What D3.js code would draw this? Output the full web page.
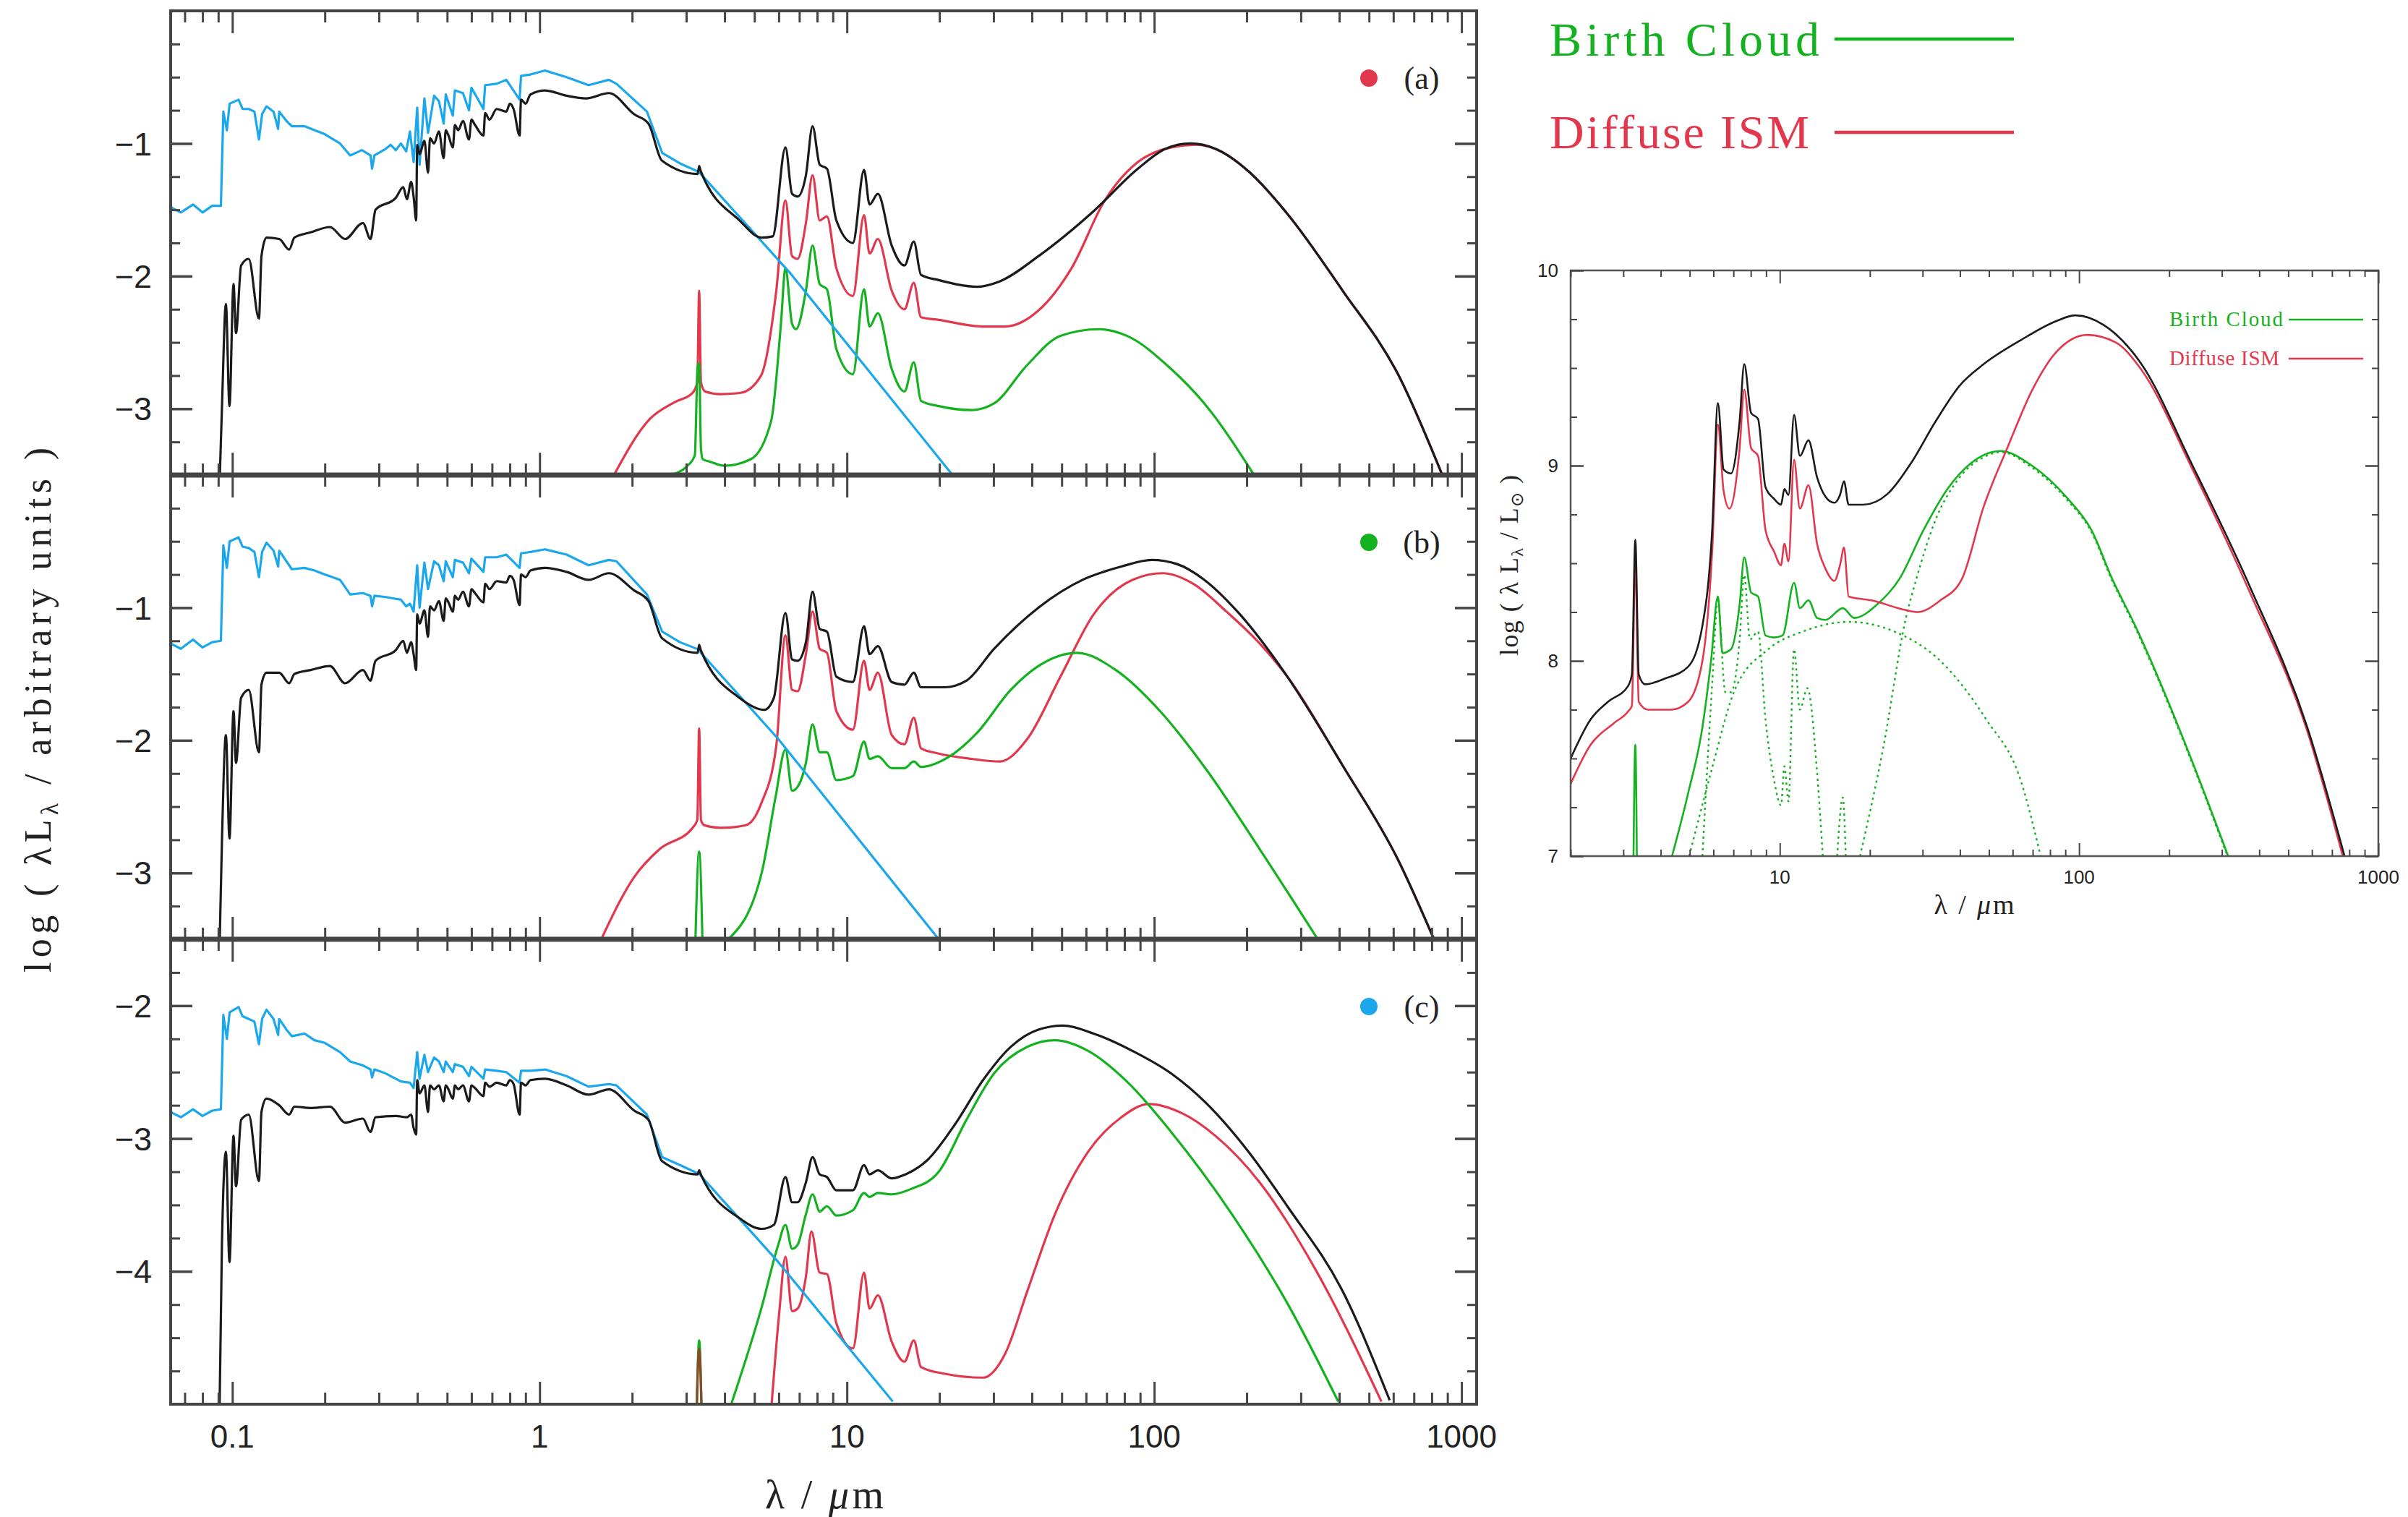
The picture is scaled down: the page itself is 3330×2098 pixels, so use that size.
<!DOCTYPE html>
<html>
<head>
<meta charset="utf-8">
<title>SED components</title>
<script src="https://cdn.jsdelivr.net/npm/d3@7/dist/d3.min.js"></script>
<style>
  body { margin: 0; background: #fff; }
  svg { display: block; }
</style>
</head>
<body>
<script>
// [wavelength (micron), log lambda L_lambda]

// panel (a)
const starsA = [[0.063,-1.48],[0.068,-1.52],[0.0745,-1.46],[0.080,-1.52],[0.086,-1.47],[0.0918,-1.47],[0.0935,-0.76],[0.096,-0.90],[0.098,-0.70],[0.1048,-0.67],[0.108,-0.74],[0.1131,-0.74],[0.118,-0.76],[0.1221,-0.97],[0.125,-0.78],[0.1292,-0.72],[0.1362,-0.76],[0.1410,-0.89],[0.1421,-0.76],[0.150,-0.83],[0.1562,-0.87],[0.1718,-0.87],[0.185,-0.90],[0.200,-0.93],[0.2242,-1.00],[0.2418,-1.09],[0.264,-1.05],[0.2816,-1.09],[0.285,-1.19],[0.290,-1.09],[0.3157,-1.04],[0.3276,-1.01],[0.3404,-1.05],[0.3538,-1.00],[0.368,-1.06],[0.3785,-0.91],[0.389,-1.14],[0.3996,-0.73],[0.4068,-1.16],[0.4218,-0.66],[0.4334,-0.92],[0.4535,-0.64],[0.4702,-0.68],[0.4873,-0.85],[0.495,-0.63],[0.5219,-0.79],[0.53,-0.60],[0.563,-0.62],[0.5891,-0.75],[0.60,-0.58],[0.6565,-0.74],[0.665,-0.56],[0.7249,-0.55],[0.7792,-0.52],[0.8609,-0.67],[0.87,-0.49],[0.9337,-0.48],[1.041,-0.45],[1.224,-0.50],[1.443,-0.56],[1.680,-0.52],[1.779,-0.55],[2.235,-0.76],[2.504,-1.07],[2.861,-1.15],[3.268,-1.21],[3.346,-1.23],[6.496,-1.97],[22.07,-3.5]];
const totalA = [[0.0908,-3.6],[0.0925,-3.0],[0.0953,-2.21],[0.0979,-2.98],[0.1009,-2.06],[0.1028,-2.43],[0.1068,-1.92],[0.1131,-1.87],[0.1221,-2.32],[0.1244,-1.85],[0.1292,-1.71],[0.1421,-1.72],[0.1532,-1.80],[0.1592,-1.71],[0.18,-1.67],[0.2078,-1.63],[0.2328,-1.72],[0.266,-1.60],[0.2816,-1.72],[0.2924,-1.50],[0.3404,-1.41],[0.36,-1.33],[0.37,-1.42],[0.3818,-1.29],[0.389,-1.40],[0.3965,-1.58],[0.3996,-1.01],[0.4068,-1.08],[0.4218,-0.98],[0.4334,-1.22],[0.44,-0.96],[0.4535,-1.00],[0.4702,-0.91],[0.4873,-1.11],[0.495,-0.90],[0.5052,-0.94],[0.5219,-1.03],[0.53,-0.86],[0.5431,-0.90],[0.563,-0.83],[0.5891,-0.97],[0.60,-0.82],[0.6163,-0.86],[0.6565,-0.94],[0.665,-0.77],[0.6868,-0.82],[0.7249,-0.74],[0.7792,-0.76],[0.80,-0.70],[0.8228,-0.74],[0.8609,-0.94],[0.87,-0.67],[0.9005,-0.70],[0.9337,-0.63],[1.041,-0.60],[1.224,-0.64],[1.415,-0.66],[1.680,-0.62],[2.032,-0.78],[2.261,-0.85],[2.502,-1.13],[3.268,-1.23],[3.305,-1.17],[3.346,-1.21],[4.473,-1.58],[5.279,-1.71],[5.737,-1.70],[6.310,-1.03],[6.632,-1.38],[6.912,-1.40],[7.355,-1.24],[7.730,-0.87],[8.157,-1.16],[8.610,-1.19],[9.240,-1.58],[10.46,-1.75],[11.37,-1.20],[11.85,-1.46],[12.61,-1.38],[13.99,-1.77],[15.39,-1.92],[16.51,-1.74],[17.42,-1.99],[19.90,-2.03],[26.60,-2.08],[31.40,-2.04],[41.98,-1.85],[63.53,-1.51],[88.51,-1.19],[108.9,-1.04],[131.2,-1.00],[158.2,-1.04],[202.8,-1.21],[271.2,-1.53],[410.5,-2.11],[621.5,-2.74],[865.9,-3.5]];
const ismA = [[1.746,-3.5],[2.278,-3.08],[2.754,-2.95],[3.146,-2.88],[3.26,-2.80],[3.305,-2.11],[3.35,-2.80],[3.459,-2.87],[3.878,-2.89],[4.514,-2.88],[5.255,-2.75],[5.892,-2.11],[6.310,-1.43],[6.632,-1.85],[6.912,-1.87],[7.355,-1.60],[7.730,-1.24],[8.157,-1.58],[8.610,-1.55],[9.240,-1.94],[10.46,-2.15],[11.37,-1.54],[11.85,-1.83],[12.61,-1.72],[13.99,-2.11],[15.39,-2.25],[16.51,-2.05],[17.42,-2.31],[19.90,-2.33],[27.73,-2.38],[32.73,-2.38],[41.98,-2.26],[53.83,-1.94],[69.02,-1.43],[88.51,-1.14],[113.5,-1.03],[136.8,-1.01],[164.9,-1.06],[202.8,-1.21],[271.2,-1.53],[410.5,-2.11],[621.5,-2.74],[865.9,-3.5]];
const cloudA = [[2.652,-3.5],[3.029,-3.43],[3.20,-3.35],[3.268,-2.68],[3.305,-2.66],[3.35,-3.30],[3.395,-3.38],[3.594,-3.40],[4.0,-3.43],[4.87,-3.38],[5.672,-3.09],[6.1,-2.36],[6.310,-1.94],[6.632,-2.36],[6.827,-2.40],[7.355,-2.11],[7.730,-1.77],[8.157,-2.06],[8.610,-2.10],[9.240,-2.55],[10.46,-2.74],[11.37,-2.10],[11.85,-2.38],[12.61,-2.28],[13.99,-2.70],[15.39,-2.87],[16.51,-2.65],[17.42,-2.94],[19.90,-2.98],[25.52,-3.01],[30.12,-2.96],[38.63,-2.67],[49.54,-2.45],[66.22,-2.40],[81.47,-2.45],[113.5,-2.70],[145.6,-2.96],[211.4,-3.5]];

// panel (b)
const starsB = [[0.063,-1.27],[0.068,-1.31],[0.0745,-1.24],[0.080,-1.30],[0.086,-1.26],[0.0918,-1.25],[0.0935,-0.53],[0.096,-0.70],[0.098,-0.50],[0.1048,-0.47],[0.108,-0.54],[0.1131,-0.55],[0.118,-0.58],[0.1221,-0.77],[0.125,-0.58],[0.1292,-0.51],[0.1362,-0.57],[0.1410,-0.69],[0.1421,-0.57],[0.150,-0.65],[0.1562,-0.71],[0.1718,-0.70],[0.185,-0.72],[0.200,-0.75],[0.2242,-0.79],[0.2418,-0.90],[0.266,-0.89],[0.2816,-0.91],[0.285,-0.99],[0.290,-0.91],[0.3157,-0.92],[0.3538,-0.94],[0.368,-0.99],[0.3785,-0.97],[0.389,-1.03],[0.3996,-0.68],[0.4068,-1.00],[0.4218,-0.66],[0.4334,-0.86],[0.4535,-0.65],[0.4702,-0.68],[0.4873,-0.80],[0.495,-0.65],[0.5219,-0.77],[0.53,-0.64],[0.563,-0.66],[0.5891,-0.74],[0.60,-0.63],[0.6565,-0.73],[0.665,-0.62],[0.7249,-0.62],[0.7792,-0.60],[0.8609,-0.70],[0.87,-0.59],[0.9337,-0.58],[1.041,-0.56],[1.224,-0.60],[1.443,-0.68],[1.680,-0.64],[1.779,-0.65],[2.235,-0.90],[2.504,-1.18],[2.861,-1.26],[3.331,-1.32],[3.346,-1.34],[5.979,-1.99],[19.90,-3.5]];
const totalB = [[0.0908,-3.6],[0.0925,-2.77],[0.0953,-1.96],[0.0979,-2.74],[0.1009,-1.78],[0.1028,-2.17],[0.1068,-1.68],[0.1131,-1.62],[0.1221,-2.09],[0.1244,-1.58],[0.1292,-1.49],[0.1421,-1.49],[0.1532,-1.57],[0.1592,-1.50],[0.18,-1.47],[0.2078,-1.44],[0.2328,-1.57],[0.266,-1.47],[0.2816,-1.55],[0.2924,-1.40],[0.3404,-1.32],[0.36,-1.25],[0.37,-1.34],[0.3818,-1.26],[0.389,-1.35],[0.3965,-1.47],[0.3996,-1.05],[0.4068,-1.12],[0.4218,-1.02],[0.4334,-1.22],[0.44,-0.99],[0.4535,-1.02],[0.4702,-0.95],[0.4873,-1.10],[0.495,-0.93],[0.5052,-0.96],[0.5219,-1.03],[0.53,-0.91],[0.5431,-0.94],[0.563,-0.88],[0.5891,-0.99],[0.60,-0.86],[0.6163,-0.89],[0.6565,-0.96],[0.665,-0.82],[0.6868,-0.86],[0.7249,-0.80],[0.7792,-0.81],[0.80,-0.76],[0.8228,-0.79],[0.8609,-0.98],[0.87,-0.75],[0.9005,-0.77],[0.9337,-0.72],[1.041,-0.70],[1.224,-0.73],[1.443,-0.79],[1.680,-0.74],[2.032,-0.87],[2.261,-0.95],[2.502,-1.23],[3.268,-1.34],[3.305,-1.28],[3.346,-1.32],[4.473,-1.68],[5.389,-1.77],[5.785,-1.68],[6.310,-1.04],[6.632,-1.39],[6.912,-1.40],[7.355,-1.26],[7.730,-0.88],[8.157,-1.16],[8.610,-1.18],[9.240,-1.52],[10.46,-1.56],[11.37,-1.14],[11.85,-1.35],[12.61,-1.29],[13.99,-1.56],[15.39,-1.58],[16.51,-1.49],[17.42,-1.60],[20.74,-1.60],[24.48,-1.55],[30.12,-1.31],[41.98,-1.00],[58.48,-0.79],[78.16,-0.69],[98.17,-0.64],[118.3,-0.67],[145.6,-0.79],[186.7,-1.03],[271.2,-1.52],[410.5,-2.19],[621.5,-2.90],[813.6,-3.5]];
const ismB = [[1.587,-3.5],[2.032,-3.03],[2.458,-2.82],[3.146,-2.66],[3.26,-2.60],[3.305,-1.91],[3.35,-2.60],[3.434,-2.64],[3.878,-2.66],[4.689,-2.64],[5.255,-2.48],[5.892,-2.04],[6.310,-1.21],[6.632,-1.62],[6.912,-1.63],[7.355,-1.35],[7.730,-1.03],[8.157,-1.31],[8.610,-1.34],[9.240,-1.78],[10.46,-1.92],[11.37,-1.40],[11.85,-1.62],[12.61,-1.49],[13.99,-1.96],[15.39,-2.03],[16.51,-1.83],[17.42,-2.06],[19.90,-2.10],[25.52,-2.14],[31.40,-2.16],[38.63,-1.99],[49.54,-1.52],[63.53,-1.05],[84.92,-0.79],[106.7,-0.74],[134.0,-0.82],[171.9,-1.03],[220.4,-1.27],[271.2,-1.52],[410.5,-2.19],[621.5,-2.90],[813.6,-3.5]];
const cloudB = [[4.117,-3.5],[5.279,-3.00],[5.857,-2.43],[6.310,-2.07],[6.632,-2.38],[6.912,-2.35],[7.355,-2.17],[7.730,-1.88],[8.157,-2.09],[8.610,-2.09],[9.240,-2.30],[10.46,-2.27],[11.37,-2.01],[11.85,-2.14],[12.61,-2.12],[13.99,-2.21],[15.39,-2.21],[16.51,-2.16],[17.42,-2.20],[21.62,-2.12],[26.60,-1.94],[34.12,-1.62],[41.98,-1.44],[56.11,-1.34],[74.99,-1.47],[104.5,-1.78],[145.6,-2.20],[220.4,-2.82],[340.6,-3.5]];
const cloudSpikeB = [[3.206,-3.6],[3.305,-2.84],[3.395,-3.6]];

// panel (c)
const starsC = [[0.063,-2.80],[0.068,-2.84],[0.0745,-2.78],[0.080,-2.83],[0.086,-2.79],[0.0918,-2.78],[0.0935,-2.07],[0.096,-2.25],[0.098,-2.05],[0.1048,-2.01],[0.108,-2.08],[0.1131,-2.10],[0.118,-2.12],[0.1221,-2.29],[0.125,-2.10],[0.1292,-2.03],[0.1362,-2.10],[0.1410,-2.22],[0.1421,-2.10],[0.150,-2.18],[0.1562,-2.23],[0.1718,-2.21],[0.185,-2.26],[0.200,-2.28],[0.2242,-2.35],[0.2418,-2.42],[0.266,-2.45],[0.2816,-2.48],[0.285,-2.54],[0.290,-2.48],[0.3157,-2.51],[0.3538,-2.57],[0.3785,-2.58],[0.389,-2.62],[0.3996,-2.35],[0.4068,-2.55],[0.4218,-2.37],[0.4334,-2.50],[0.4535,-2.39],[0.4702,-2.42],[0.4873,-2.50],[0.495,-2.42],[0.5219,-2.50],[0.53,-2.44],[0.563,-2.46],[0.5891,-2.53],[0.60,-2.46],[0.6565,-2.55],[0.665,-2.48],[0.7249,-2.49],[0.7792,-2.50],[0.8609,-2.58],[0.87,-2.49],[0.9337,-2.49],[1.041,-2.48],[1.224,-2.53],[1.443,-2.61],[1.680,-2.59],[1.779,-2.60],[2.235,-2.82],[2.504,-3.14],[2.861,-3.20],[3.331,-3.27],[3.346,-3.28],[5.979,-3.93],[14.10,-4.98]];
const totalC = [[0.0908,-5.1],[0.0925,-3.80],[0.0953,-3.10],[0.0979,-3.93],[0.1009,-2.98],[0.1028,-3.36],[0.1068,-2.86],[0.1131,-2.82],[0.1221,-3.32],[0.1244,-2.80],[0.1292,-2.70],[0.1421,-2.75],[0.1532,-2.82],[0.1592,-2.76],[0.18,-2.77],[0.2078,-2.76],[0.2328,-2.88],[0.266,-2.85],[0.2816,-2.95],[0.2924,-2.84],[0.3404,-2.83],[0.37,-2.84],[0.3818,-2.82],[0.389,-2.92],[0.3965,-2.97],[0.3996,-2.56],[0.4068,-2.66],[0.4218,-2.60],[0.4334,-2.80],[0.44,-2.60],[0.4535,-2.63],[0.4702,-2.60],[0.4873,-2.72],[0.495,-2.60],[0.5052,-2.63],[0.5219,-2.70],[0.53,-2.60],[0.5431,-2.63],[0.563,-2.60],[0.5891,-2.72],[0.60,-2.60],[0.6163,-2.62],[0.6565,-2.68],[0.665,-2.58],[0.6868,-2.61],[0.7249,-2.58],[0.7792,-2.60],[0.80,-2.56],[0.8228,-2.59],[0.8609,-2.82],[0.87,-2.58],[0.9005,-2.60],[0.9337,-2.56],[1.041,-2.55],[1.224,-2.60],[1.443,-2.67],[1.680,-2.63],[2.032,-2.79],[2.261,-2.86],[2.502,-3.17],[3.268,-3.27],[3.305,-3.24],[3.346,-3.27],[4.473,-3.60],[5.279,-3.68],[5.785,-3.65],[6.310,-3.29],[6.632,-3.48],[6.912,-3.48],[7.355,-3.33],[7.730,-3.14],[8.157,-3.27],[8.610,-3.29],[9.240,-3.39],[10.46,-3.39],[11.37,-3.20],[11.85,-3.27],[12.61,-3.24],[13.99,-3.30],[15.51,-3.27],[18.32,-3.16],[22.53,-2.89],[27.73,-2.56],[34.12,-2.31],[41.98,-2.18],[50.58,-2.15],[63.53,-2.21],[84.92,-2.34],[113.5,-2.51],[145.6,-2.72],[202.8,-3.10],[271.2,-3.51],[410.5,-4.15],[583.9,-4.97]];
const ismC = [[5.689,-5.0],[6.029,-4.30],[6.310,-3.89],[6.632,-4.30],[6.912,-4.28],[7.355,-4.04],[7.666,-3.70],[8.157,-4.01],[8.610,-4.02],[9.240,-4.39],[10.46,-4.58],[11.37,-4.01],[11.85,-4.28],[12.61,-4.18],[13.99,-4.53],[15.39,-4.68],[16.51,-4.52],[17.42,-4.72],[20.74,-4.77],[27.73,-4.80],[32.73,-4.62],[38.63,-4.15],[47.53,-3.57],[60.95,-3.10],[78.16,-2.84],[96.16,-2.74],[123.3,-2.81],[158.2,-2.98],[220.4,-3.33],[333.7,-3.98],[548.8,-4.98]];
const cloudC = [[4.203,-5.0],[5.279,-4.27],[5.979,-3.80],[6.310,-3.65],[6.632,-3.83],[6.912,-3.80],[7.355,-3.57],[7.730,-3.42],[8.157,-3.55],[8.610,-3.51],[9.240,-3.58],[10.46,-3.54],[11.37,-3.41],[11.85,-3.44],[12.61,-3.41],[13.99,-3.42],[16.17,-3.38],[19.90,-3.25],[24.48,-2.86],[30.12,-2.51],[38.63,-2.31],[47.53,-2.26],[60.95,-2.34],[81.47,-2.57],[113.5,-2.95],[179.1,-3.57],[271.2,-4.24],[397.1,-4.98]];
const cloudSpikeC = [[3.24,-5.1],[3.305,-4.52],[3.37,-5.1]];
const ismSpikeC = [[3.24,-5.1],[3.305,-4.58],[3.37,-5.1]];

// inset (log lambda L_lambda / L_sun)
const totalInset = [[2.0,7.50],[2.332,7.70],[2.662,7.79],[3.107,7.87],[3.204,7.93],[3.29,8.62],[3.378,7.93],[3.546,7.88],[4.140,7.91],[4.936,7.97],[5.513,8.18],[5.943,8.67],[6.211,9.32],[6.491,8.98],[6.874,8.96],[7.342,9.23],[7.606,9.52],[8.019,9.27],[8.455,9.24],[8.958,8.89],[9.568,8.83],[10.09,8.80],[10.36,8.88],[10.69,8.85],[11.16,9.26],[11.67,9.05],[12.47,9.13],[13.32,8.94],[14.23,8.84],[15.21,8.81],[15.89,8.85],[16.39,8.92],[16.98,8.80],[19.0,8.80],[22.9,8.855],[27.5,9.015],[33.1,9.225],[39.9,9.41],[48.0,9.52],[63.4,9.64],[83.7,9.74],[97.1,9.77],[121,9.72],[160,9.53],[239.5,9.00],[372.3,8.38],[578.8,7.66],[770.9,7.0]];
const ismInset = [[2.0,7.37],[2.332,7.57],[2.783,7.68],[3.107,7.74],[3.204,7.77],[3.29,8.51],[3.378,7.79],[3.625,7.75],[4.325,7.75],[4.936,7.79],[5.513,8.00],[5.943,8.56],[6.211,9.21],[6.491,8.87],[6.784,8.78],[7.342,9.09],[7.606,9.39],[8.019,9.09],[8.455,9.05],[8.958,8.67],[9.568,8.56],[10.09,8.49],[10.36,8.60],[10.69,8.51],[11.16,9.03],[11.67,8.78],[12.47,8.90],[13.32,8.60],[14.23,8.47],[15.21,8.41],[15.89,8.49],[16.39,8.58],[16.98,8.33],[20.25,8.31],[26.39,8.26],[28.83,8.25],[34.39,8.31],[40.6,8.42],[48,8.79],[57.9,9.10],[69.6,9.385],[83.7,9.58],[106.7,9.67],[133,9.63],[160,9.50],[239.5,8.98],[372.3,8.35],[578.8,7.64],[760.6,7.0]];
const cloudInset = [[4.364,7.0],[4.936,7.32],[5.513,7.66],[5.891,8.00],[6.211,8.33],[6.434,8.04],[6.874,8.06],[7.342,8.29],[7.606,8.53],[8.019,8.35],[8.455,8.33],[8.958,8.13],[9.568,8.12],[10.22,8.13],[11.16,8.40],[11.67,8.27],[12.47,8.31],[13.32,8.22],[14.23,8.21],[16.24,8.27],[17.74,8.22],[21.17,8.29],[25.1,8.42],[30.2,8.67],[36.3,8.88],[43.7,9.015],[54.7,9.075],[69.6,9.0],[91.8,8.83],[110,8.67],[129,8.42],[154.0,8.18],[239.5,7.48],[314.8,7.0]];
const cloudSpikeInset = [[3.24,6.9],[3.29,7.57],[3.334,6.9]];
const cloudHotInset = [[4.98,7.0],[5.891,7.43],[7.025,7.84],[9.157,8.06],[11.93,8.15],[16.98,8.20],[24.16,8.15],[34.39,8.00],[48.95,7.70],[63.76,7.39],[74.40,7.0]];
const cloudPahInset = [[5.513,7.0],[5.943,7.88],[6.211,8.31],[6.577,7.84],[6.874,7.84],[7.342,8.11],[7.606,8.44],[7.949,8.11],[8.455,8.15],[8.958,7.70],[9.568,7.39],[10.09,7.26],[10.36,7.46],[10.69,7.28],[11.16,8.06],[11.67,7.75],[12.36,7.86],[13.32,7.43],[13.92,7.0]];
const cloudPah17Inset = [[15.55,7.0],[16.24,7.30],[16.61,7.0]];
const cloudWarmInset = [[18.54,7.0],[22.13,7.55],[26.39,8.22],[28.6,8.42],[33.1,8.72],[39.9,8.94],[49,9.05],[54.7,9.07],[69.6,8.99],[91.8,8.82],[110,8.66],[129,8.41],[154,8.17],[239.5,7.47],[314.8,6.99]];

// ticks
const xTickValues = [0.1, 1, 10, 100, 1000];
const xTickLabels = ["0.1", "1", "10", "100", "1000"];
const insetXTickValues = [10, 100, 1000];
const insetXTickLabels = ["10", "100", "1000"];
const insetYTickValues = [7, 8, 9, 10];

const STARS = "#1ba7ec", TOTAL = "#1b1b1b", ISM = "#e2384d", CLOUD = "#14b220", AXIS = "#454545";

const W = 3330, H = 2098;
const svg = d3.select("body").append("svg")
  .attr("width", W).attr("height", H)
  .style("background", "#fff");

const x = d3.scaleLog().domain([0.063, 1120]).range([236, 2042]);
const isDecade = v => Math.abs(Math.log10(v) - Math.round(Math.log10(v))) < 1e-6;
const xMinor = x.ticks().filter(v => !isDecade(v));

function ticks(g, axisFn, scale, values, size, tx, ty, width) {
  g.append("g").attr("transform", `translate(${tx},${ty})`)
    .call(axisFn(scale).tickValues(values).tickSize(-size).tickFormat(""))
    .call(s => s.select(".domain").remove())
    .call(s => s.selectAll("text").remove())
    .call(s => s.selectAll("line").attr("stroke", AXIS).attr("stroke-width", width));
}

// smooth for dust emission, straight segments for the stellar spectra
const line = (xs, ys, straight) => d3.line()
  .curve(straight ? d3.curveLinear : d3.curveMonotoneX)
  .x(d => xs(d[0])).y(d => ys(d[1]));

const panels = [
  { key: "a", label: "(a)", dot: ISM, top: 15, bottom: 657, dom: [0, -3.5], major: [-1, -2, -3],
    curves: [[ismA, ISM], [cloudA, CLOUD], [starsA, STARS, true], [totalA, TOTAL]] },
  { key: "b", label: "(b)", dot: CLOUD, top: 657, bottom: 1299, dom: [0, -3.5], major: [-1, -2, -3],
    curves: [[ismB, ISM], [cloudSpikeB, CLOUD], [cloudB, CLOUD], [starsB, STARS, true], [totalB, TOTAL]] },
  { key: "c", label: "(c)", dot: STARS, top: 1299, bottom: 1942, dom: [-1.5, -5], major: [-2, -3, -4],
    curves: [[cloudSpikeC, CLOUD], [ismSpikeC, "#8a4a2a"], [ismC, ISM], [cloudC, CLOUD], [starsC, STARS, true], [totalC, TOTAL]] }
];

const defs = svg.append("defs");

panels.forEach(p => {
  const y = d3.scaleLinear().domain(p.dom).range([p.top, p.bottom]);
  const g = svg.append("g");
  const [x0, x1] = x.range();

  defs.append("clipPath").attr("id", "clip-" + p.key)
    .append("rect").attr("x", x0).attr("y", p.top).attr("width", x1 - x0).attr("height", p.bottom - p.top);

  const plot = g.append("g").attr("clip-path", `url(#clip-${p.key})`);
  p.curves.forEach(([data, color, straight]) => {
    plot.append("path").datum(data)
      .attr("d", line(x, y, straight))
      .attr("fill", "none")
      .attr("stroke", color)
      .attr("stroke-width", 3.2)
      .attr("stroke-linejoin", "round");
  });

  // frame + ticks
  g.append("rect").attr("x", x0).attr("y", p.top).attr("width", x1 - x0).attr("height", p.bottom - p.top)
    .attr("fill", "none").attr("stroke", AXIS).attr("stroke-width", 4);

  ticks(g, d3.axisBottom, x, xMinor, 16, 0, p.bottom, 3);
  ticks(g, d3.axisBottom, x, xTickValues, 31, 0, p.bottom, 3);
  ticks(g, d3.axisTop, x, xMinor, 16, 0, p.top, 3);
  ticks(g, d3.axisTop, x, xTickValues, 31, 0, p.top, 3);

  const yMinor = d3.range(p.dom[1], p.dom[0] + 1e-9, 0.25).filter(v => Math.abs(v - Math.round(v)) > 1e-6);
  ticks(g, d3.axisLeft, y, yMinor, 13, x0, 0, 3);
  ticks(g, d3.axisLeft, y, p.major, 30, x0, 0, 3.5);
  ticks(g, d3.axisRight, y, yMinor, 13, x1, 0, 3);
  ticks(g, d3.axisRight, y, p.major, 30, x1, 0, 3.5);

  g.selectAll("text.ylab").data(p.major).join("text")
    .attr("class", "ylab")
    .attr("x", 210).attr("y", d => y(d))
    .attr("dy", "0.36em")
    .attr("text-anchor", "end")
    .attr("font-family", "Liberation Sans, Arial, sans-serif")
    .attr("font-size", 45)
    .attr("fill", "#222")
    .text(d => "\u2212" + Math.abs(d));

  g.append("circle").attr("cx", 1893).attr("cy", p.top + 93).attr("r", 12).attr("fill", p.dot);
  g.append("text").attr("x", 1966).attr("y", p.top + 108)
    .attr("text-anchor", "middle")
    .attr("font-family", "Liberation Serif, serif")
    .attr("font-size", 44)
    .attr("fill", "#222")
    .text(p.label);
});

// thick dividers between panels
svg.selectAll("line.div").data([657, 1299]).join("line")
  .attr("x1", x.range()[0]).attr("x2", x.range()[1])
  .attr("y1", d => d).attr("y2", d => d)
  .attr("stroke", AXIS).attr("stroke-width", 7);

// main x labels
svg.selectAll("text.xlab").data(xTickValues).join("text")
  .attr("x", d => x(d)).attr("y", 2002)
  .attr("text-anchor", "middle")
  .attr("font-family", "Liberation Sans, Arial, sans-serif")
  .attr("font-size", 44)
  .attr("fill", "#222")
  .text((d, i) => xTickLabels[i]);

const xTitle = svg.append("text").attr("x", 1140).attr("y", 2086)
  .attr("text-anchor", "middle")
  .attr("font-family", "Liberation Serif, serif")
  .attr("font-size", 56).attr("fill", "#222")
  .attr("textLength", 164);
xTitle.append("tspan").text("\u03bb / ");
xTitle.append("tspan").attr("font-style", "italic").text("\u03bc");
xTitle.append("tspan").text("m");

const yTitle = svg.append("text")
  .attr("transform", "translate(70,982) rotate(-90)")
  .attr("text-anchor", "middle")
  .attr("font-family", "Liberation Serif, serif")
  .attr("font-size", 52).attr("fill", "#222")
  .attr("textLength", 726);
yTitle.append("tspan").text("log ( \u03bbL");
yTitle.append("tspan").attr("font-size", 34).attr("dy", 10).text("\u03bb");
yTitle.append("tspan").attr("dy", -10).text(" /  arbitrary  units )");

// big legend
const bigLegend = [
  { name: "Birth Cloud", color: CLOUD, y: 77, len: 373, ly: 54 },
  { name: "Diffuse ISM", color: ISM, y: 205, len: 359, ly: 183 }
];
bigLegend.forEach(d => {
  svg.append("text").attr("x", 2143).attr("y", d.y)
    .attr("font-family", "Liberation Serif, serif")
    .attr("font-size", 66)
    .attr("textLength", d.len)
    .attr("fill", d.color).text(d.name);
  svg.append("line").attr("x1", 2537).attr("x2", 2785).attr("y1", d.ly).attr("y2", d.ly)
    .attr("stroke", d.color).attr("stroke-width", 4.5);
});

// ---------- inset ----------
const ix = d3.scaleLog().domain([2, 1000]).range([2172, 3289]);
const iy = d3.scaleLinear().domain([7, 10]).range([1184, 374]);
const ig = svg.append("g");

defs.append("clipPath").attr("id", "clip-inset")
  .append("rect").attr("x", 2172).attr("y", 374).attr("width", 3289 - 2172).attr("height", 1184 - 374);

const iplot = ig.append("g").attr("clip-path", "url(#clip-inset)");
const insetCurves = [
  [cloudHotInset, CLOUD, true], [cloudPahInset, CLOUD, true], [cloudPah17Inset, CLOUD, true], [cloudWarmInset, CLOUD, true],
  [cloudSpikeInset, CLOUD, false], [cloudInset, CLOUD, false], [ismInset, ISM, false], [totalInset, TOTAL, false]
];
insetCurves.forEach(([data, color, dotted]) => {
  iplot.append("path").datum(data)
    .attr("d", line(ix, iy, false))
    .attr("fill", "none")
    .attr("stroke", color)
    .attr("stroke-width", dotted ? 2.4 : 2.6)
    .attr("stroke-dasharray", dotted ? "3,5" : null)
    .attr("stroke-linejoin", "round");
});

ig.append("rect").attr("x", 2172).attr("y", 374).attr("width", 3289 - 2172).attr("height", 1184 - 374)
  .attr("fill", "none").attr("stroke", "#555").attr("stroke-width", 2.5);

const ixMinor = ix.ticks().filter(v => !isDecade(v));
const iyMinor = d3.range(7, 10, 0.25).filter(v => Math.abs(v - Math.round(v)) > 1e-6);
ticks(ig, d3.axisBottom, ix, ixMinor, 9, 0, 1184, 2);
ticks(ig, d3.axisBottom, ix, insetXTickValues, 18, 0, 1184, 2);
ticks(ig, d3.axisTop, ix, ixMinor, 9, 0, 374, 2);
ticks(ig, d3.axisTop, ix, insetXTickValues, 18, 0, 374, 2);
ticks(ig, d3.axisLeft, iy, iyMinor, 9, 2172, 0, 2);
ticks(ig, d3.axisLeft, iy, insetYTickValues, 18, 2172, 0, 2.5);
ticks(ig, d3.axisRight, iy, iyMinor, 9, 3289, 0, 2);
ticks(ig, d3.axisRight, iy, insetYTickValues, 18, 3289, 0, 2.5);

ig.selectAll("text.iylab").data(insetYTickValues).join("text")
  .attr("x", 2155).attr("y", d => iy(d)).attr("dy", "0.36em")
  .attr("text-anchor", "end")
  .attr("font-family", "Liberation Sans, Arial, sans-serif")
  .attr("font-size", 26).attr("fill", "#222")
  .text(d => d);

ig.selectAll("text.ixlab").data(insetXTickValues).join("text")
  .attr("x", d => ix(d)).attr("y", 1222)
  .attr("text-anchor", "middle")
  .attr("font-family", "Liberation Sans, Arial, sans-serif")
  .attr("font-size", 26).attr("fill", "#222")
  .text((d, i) => insetXTickLabels[i]);

const ixTitle = ig.append("text").attr("x", 2730).attr("y", 1264)
  .attr("text-anchor", "middle")
  .attr("font-family", "Liberation Serif, serif")
  .attr("font-size", 38).attr("fill", "#222")
  .attr("textLength", 111);
ixTitle.append("tspan").text("\u03bb / ");
ixTitle.append("tspan").attr("font-style", "italic").text("\u03bc");
ixTitle.append("tspan").text("m");

const iyTitle = ig.append("text")
  .attr("transform", "translate(2099,782) rotate(-90)")
  .attr("text-anchor", "middle")
  .attr("font-family", "Liberation Serif, serif")
  .attr("font-size", 36).attr("fill", "#222")
  .attr("textLength", 250);
iyTitle.append("tspan").text("log ( \u03bb L");
iyTitle.append("tspan").attr("font-size", 24).attr("dy", 7).text("\u03bb");
iyTitle.append("tspan").attr("dy", -7).text(" / L");
iyTitle.append("tspan").attr("font-size", 24).attr("dy", 7).text("\u2299");
iyTitle.append("tspan").attr("dy", -7).text(" )");

const insetLegend = [
  { name: "Birth Cloud", color: CLOUD, y: 451, len: 157, ly: 442 },
  { name: "Diffuse ISM", color: ISM, y: 505, len: 152, ly: 496 }
];
insetLegend.forEach(d => {
  ig.append("text").attr("x", 3000).attr("y", d.y)
    .attr("font-family", "Liberation Serif, serif")
    .attr("font-size", 29)
    .attr("textLength", d.len)
    .attr("fill", d.color).text(d.name);
  ig.append("line").attr("x1", 3165).attr("x2", 3268).attr("y1", d.ly).attr("y2", d.ly)
    .attr("stroke", d.color).attr("stroke-width", 2.6);
});
</script>
</body>
</html>
